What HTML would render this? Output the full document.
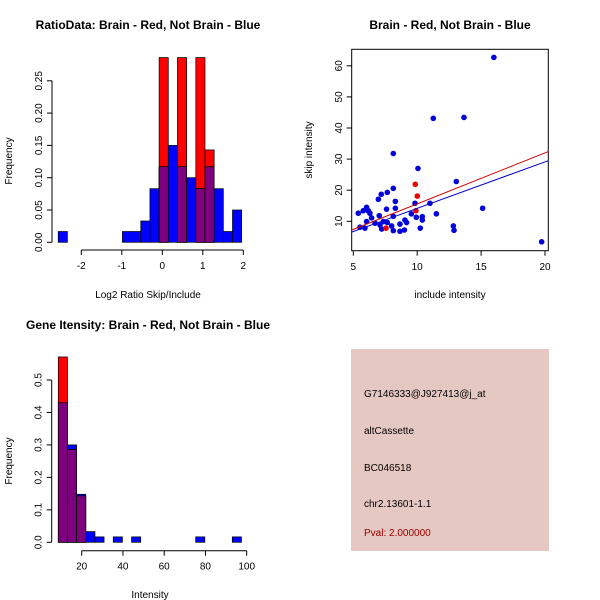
<!DOCTYPE html>
<html><head><meta charset="utf-8"><style>
html,body{margin:0;padding:0;background:#fff;}
svg{display:block;font-family:"Liberation Sans",sans-serif;}
</style></head><body>
<svg id="s" width="600" height="600" viewBox="0 0 600 600">
<rect width="600" height="600" fill="#fff"/>
<text x="148" y="29" font-size="12" font-weight="bold" text-anchor="middle">RatioData: Brain - Red, Not Brain - Blue</text>
<text x="148" y="298" font-size="10" text-anchor="middle">Log2 Ratio Skip/Include</text>
<text transform="translate(12,161) rotate(-90)" font-size="10" text-anchor="middle">Frequency</text>
<text x="450" y="29" font-size="12" font-weight="bold" text-anchor="middle">Brain - Red, Not Brain - Blue</text>
<text x="450" y="298" font-size="10" text-anchor="middle">include intensity</text>
<text transform="translate(312,150) rotate(-90)" font-size="10" text-anchor="middle">skip intensity</text>
<text x="148" y="329" font-size="12" font-weight="bold" text-anchor="middle">Gene Itensity: Brain - Red, Not Brain - Blue</text>
<text x="150" y="598" font-size="10" text-anchor="middle">Intensity</text>
<text transform="translate(12,461) rotate(-90)" font-size="10" text-anchor="middle">Frequency</text>
<g>
<rect x="351" y="349" width="198" height="202" fill="#e6c8c2"/>
<text x="364" y="397" font-size="10">G7146333@J927413@j_at</text>
<text x="364" y="434" font-size="10">altCassette</text>
<text x="364" y="471" font-size="10">BC046518</text>
<text x="364" y="507" font-size="10">chr2.13601-1.1</text>
<text x="364" y="536" font-size="10" fill="#a00000">Pval: 2.000000</text>
</g>
</svg>
<script>
// ratio histogram data
const ratioStart = -2.57, ratioWidth = 0.2265;
const ratioBlue = [0.0167,0,0,0,0,0,0,0.0167,0.0167,0.033,0.083,0.117,0.15,0.117,0.1,0.083,0.117,0.083,0.0167,0.05];
const ratioRed  = [0,0,0,0,0,0,0,0,0,0,0,0.286,0,0.286,0,0.286,0.143,0,0,0];
const ratioXTicks = [-2,-1,0,1,2];
const ratioYTicks = ["0.00","0.05","0.10","0.15","0.20","0.25"];
// gene histogram data
const geneStart = 8.65, geneWidth = 4.44;
const geneBlue = [0.43,0.30,0.148,0.033,0.0167,0,0.0167,0,0.0167,0,0,0,0,0,0,0.0167,0,0,0,0.0167];
const geneRed  = [0.571,0.286,0.143,0,0,0,0,0,0,0,0,0,0,0,0,0,0,0,0,0];
const geneXTicks = [20,40,60,80,100];
const geneYTicks = ["0.0","0.1","0.2","0.3","0.4","0.5"];
// scatter data
const scatBlueX = [16.0,11.26,13.66,8.13,10.06,13.06,8.13,7.66,7.19,6.96,8.29,9.83,11.0,15.12,8.29,7.6,6.04,5.78,6.17,5.39,6.3,9.54,11.5,7.03,8.13,9.93,10.4,10.4,6.43,6.04,7.35,7.66,6.7,9.04,9.17,8.65,7.09,8.0,12.83,5.52,5.91,7.22,8.13,8.65,9.0,10.24,12.88,19.74];
const scatBlueY = [62.7,43.1,43.4,31.8,27.0,22.8,20.6,19.3,18.7,17.1,16.4,15.8,15.8,14.2,14.2,13.9,14.5,13.4,13.4,12.6,12.6,12.4,12.4,11.8,11.6,11.3,11.5,10.4,11.1,9.9,9.9,9.6,9.4,10.4,9.6,9.1,8.8,8.5,8.5,8.1,7.8,7.5,7.0,6.8,7.2,7.8,7.1,3.4];
const scatRedX = [9.85,10.01,9.9,7.56];
const scatRedY = [21.9,18.1,13.4,7.8];
const fitIntercept = [-0.8, -0.77]; // red, blue
const fitSlope = [1.64, 1.494];
const scatXTicks = [5,10,15,20];
const scatYTicks = [10,20,30,40,50,60];

const NS="http://www.w3.org/2000/svg", svg=document.getElementById('s');
function el(tag, attrs){const e=document.createElementNS(NS,tag);for(const k in attrs)e.setAttribute(k,attrs[k]);svg.appendChild(e);return e;}

function hist(start,width,blue,red,xs,ys,xTicks,yTicks,axisY,yAxisX,prefix){
  const n=blue.length;
  for(let i=0;i<n;i++){
    const x0=xs(start+i*width), x1=xs(start+(i+1)*width);
    const b=blue[i], r=red[i];
    if(r>0){const e=el('rect',{x:x0,y:ys(r),width:x1-x0,height:ys(0)-ys(r),fill:'#ff0000',stroke:'#000','stroke-width':0.7});
      
      }
    if(b>0){const e=el('rect',{x:x0,y:ys(b),width:x1-x0,height:ys(0)-ys(b),fill:'#0000ff',stroke:'#000','stroke-width':0.7});
      
      }
    if(b>0&&r>0){const m=Math.min(b,r);const e=el('rect',{x:x0,y:ys(m),width:x1-x0,height:ys(0)-ys(m),fill:'#7f007f',stroke:'#000','stroke-width':0.7});
      
      }
  }
  const a=el('line',{x1:xs(xTicks[0]),x2:xs(xTicks[xTicks.length-1]),y1:axisY,y2:axisY,stroke:'#000'});
  
  
  xTicks.forEach(v=>{el('line',{x1:xs(v),x2:xs(v),y1:axisY,y2:axisY+5,stroke:'#000'});
    const t=el('text',{x:xs(v),y:axisY+19,'font-size':10,'text-anchor':'middle'});t.textContent=v;
    
    });
  const b=el('line',{x1:yAxisX,x2:yAxisX,y1:ys(0),y2:ys(parseFloat(yTicks[yTicks.length-1])),stroke:'#000'});
  
  
  yTicks.forEach(v=>{const y=ys(parseFloat(v));el('line',{x1:yAxisX-5,x2:yAxisX,y1:y,y2:y,stroke:'#000'});
    const t=el('text',{transform:`translate(${yAxisX-10},${y}) rotate(-90)`,'font-size':10,'text-anchor':'middle'});t.textContent=v;
    
    });
}
hist(ratioStart,ratioWidth,ratioBlue,ratioRed,v=>162.3+v*40.5,v=>242.3-v*646,ratioXTicks,ratioYTicks,250,52,'ratio');
hist(geneStart,geneWidth,geneBlue,geneRed,v=>81.7+(v-20)*2.0625,v=>542.3-v*324.6,geneXTicks,geneYTicks,550.7,51.7,'gene');

// scatter
const sx=v=>353.3+(v-5)*12.78, sy=v=>221.3-(v-10)*3.11;
const box=el('rect',{x:351.7,y:49.3,width:196.6,height:201.4,fill:'none',stroke:'#000'});


scatXTicks.forEach(v=>{el('line',{x1:sx(v),x2:sx(v),y1:250.7,y2:255.7,stroke:'#000'});
  const t=el('text',{x:sx(v),y:270,'font-size':10,'text-anchor':'middle'});t.textContent=v;
  
  });
scatYTicks.forEach(v=>{el('line',{x1:346.7,x2:351.7,y1:sy(v),y2:sy(v),stroke:'#000'});
  const t=el('text',{transform:`translate(342,${sy(v)}) rotate(-90)`,'font-size':10,'text-anchor':'middle'});t.textContent=v;
  
  });
scatBlueX.forEach((x,i)=>{const c=el('circle',{cx:sx(x),cy:sy(scatBlueY[i]),r:2.8,fill:'#0000dd'});
  
  });
scatRedX.forEach((x,i)=>{const c=el('circle',{cx:sx(x),cy:sy(scatRedY[i]),r:2.8,fill:'#ee0000'});
  
  });
const lineCols=['#cc0000','#0000cc'];
[0,1].forEach(k=>{const xa=4.9,xb=20.26;
  const l=el('line',{x1:sx(xa),y1:sy(fitIntercept[k]+fitSlope[k]*xa),x2:sx(xb),y2:sy(fitIntercept[k]+fitSlope[k]*xb),stroke:lineCols[k],'stroke-width':1});
  
  });
</script>
</body></html>
